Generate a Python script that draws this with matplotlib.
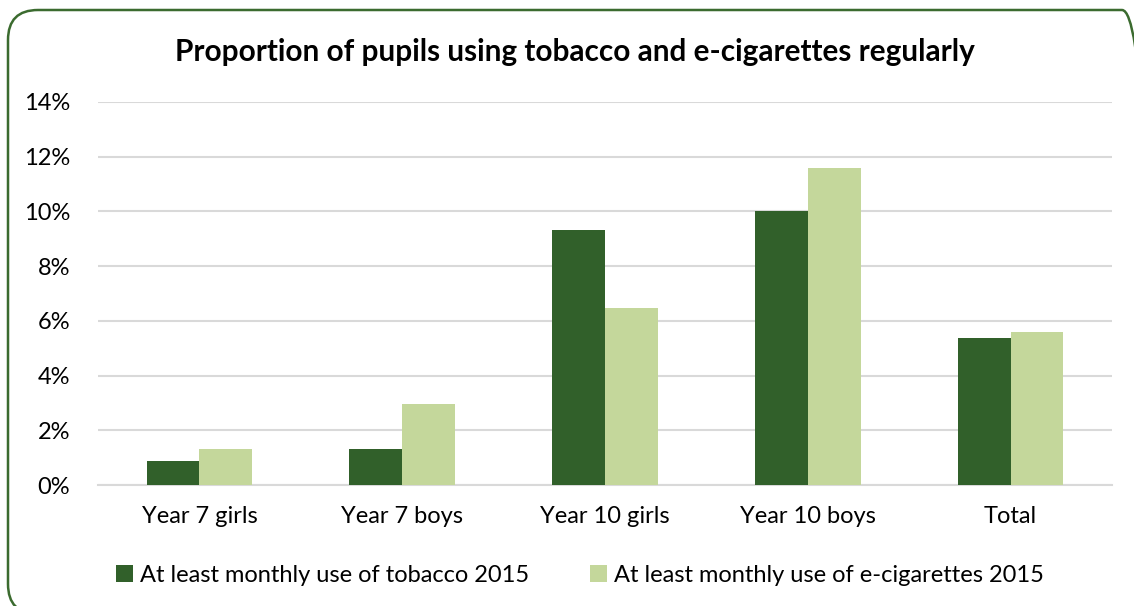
import matplotlib.pyplot as plt
import numpy as np
from matplotlib.patches import FancyBboxPatch
from matplotlib.transforms import IdentityTransform
from matplotlib.ticker import FuncFormatter

plt.rcParams['font.family'] = ['Lato', 'DejaVu Sans']

categories = ['Year 7 girls', 'Year 7 boys', 'Year 10 girls', 'Year 10 boys', 'Total']
tobacco = [0.88, 1.33, 9.33, 10.03, 5.37]
ecig = [1.30, 2.96, 6.47, 11.60, 5.58]
series_names = ['At least monthly use of tobacco 2015',
                'At least monthly use of e-cigarettes 2015']

dark_green = '#31602A'
light_green = '#C4D79B'

W, H = 1134, 606
fig = plt.figure(figsize=(W / 100, H / 100), dpi=100)

# rounded green frame, in pixel units (bottom and right run off the canvas)
frame = FancyBboxPatch((8, -8), 1144, H - 10 + 8,
                       boxstyle='round,pad=0,rounding_size=30',
                       transform=IdentityTransform(), fill=False,
                       edgecolor='#3B6B2F', linewidth=1.8)
fig.patches.append(frame)

ax = fig.add_axes([98 / W, (H - 485) / H, 1014 / W, (485 - 102) / H])

x = np.arange(len(categories))
bw = 0.26
ax.bar(x - bw / 2, tobacco, bw, color=dark_green, label=series_names[0], zorder=3)
ax.bar(x + bw / 2, ecig, bw, color=light_green, label=series_names[1], zorder=3)

ax.set_xlim(-0.5, len(categories) - 0.5)
ax.set_ylim(0, 14)
ax.set_yticks(np.arange(0, 15, 2))
ax.yaxis.set_major_formatter(FuncFormatter(lambda v, _: f'{v:.0f}%'))
ax.set_xticks(x)
ax.set_xticklabels(categories)
ax.tick_params(axis='both', length=0, labelsize=17, colors='#000000')
ax.tick_params(axis='x', pad=15)
ax.tick_params(axis='y', pad=20)

ax.grid(axis='y', color='#D9D9D9', linewidth=1.5, zorder=0)
for s in ['top', 'right', 'left']:
    ax.spines[s].set_visible(False)
ax.spines['bottom'].set_color('#D9D9D9')
ax.spines['bottom'].set_linewidth(1.5)

fig.text(575 / W, 1 - 52 / H, 'Proportion of pupils using tobacco and e-cigarettes regularly',
         ha='center', va='center', fontsize=21.4, fontweight='bold')

fig.legend(loc='center', bbox_to_anchor=(580 / W, 1 - 575 / H), ncol=2, frameon=False,
           fontsize=17, handlelength=0.7, handleheight=0.7, handletextpad=0.3,
           columnspacing=2.6)

fig.savefig('out.png', dpi=100)
